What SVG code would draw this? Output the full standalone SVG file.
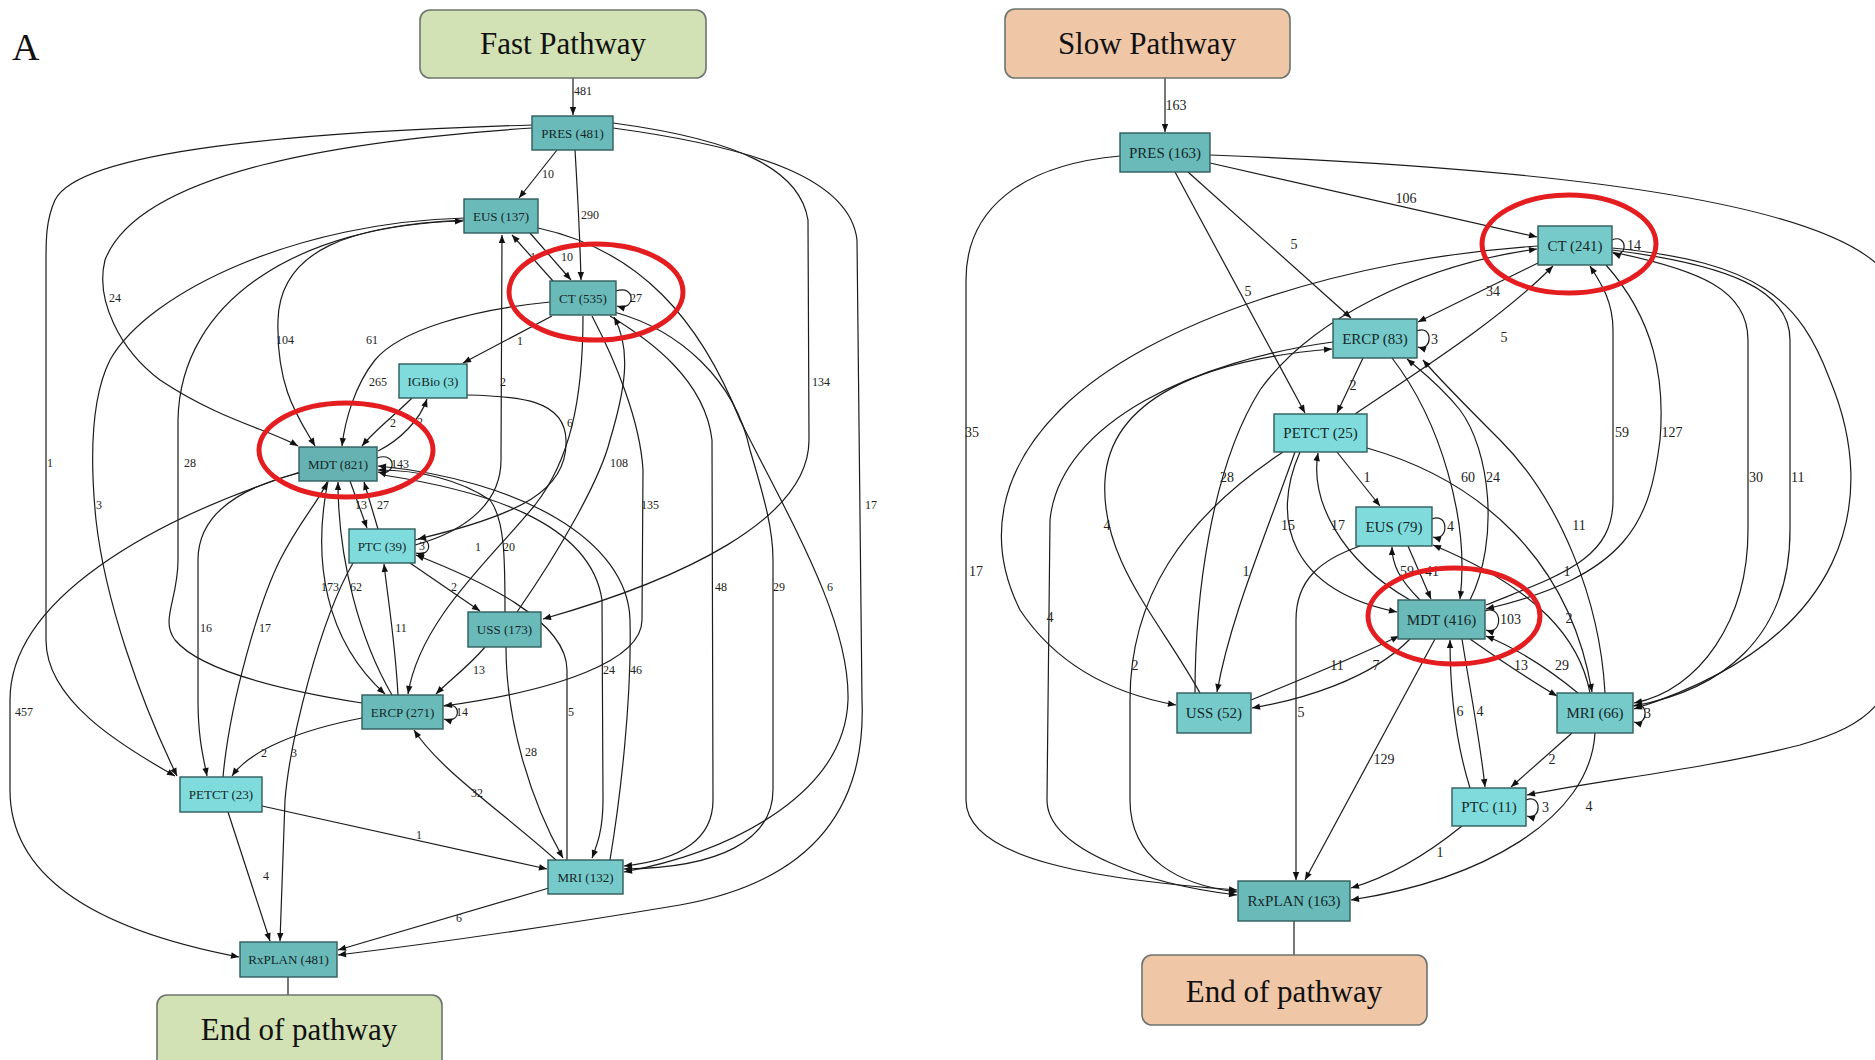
<svg xmlns="http://www.w3.org/2000/svg" width="1875" height="1060" viewBox="0 0 1875 1060">
  <style>
    .e { fill: none; stroke: #1b1b1b; stroke-width: 1.2; marker-end: url(#ah); }
    .en { fill: none; stroke: #1b1b1b; stroke-width: 1.2; }
    .node rect { stroke: #2f5c5c; stroke-width: 1.4; }
    .n1 { fill: #6bbaba; }
    .n0 { fill: #66b2b2; }
    .n2 { fill: #77caca; }
    .n3 { fill: #80dcdc; }
    .nt { font-family: "Liberation Serif", "Times New Roman", serif; fill: #142828; text-anchor: middle; }
    .s { font-size: 13px; }
    .b { font-size: 15px; }
    .big { font-family: "Liberation Serif", "Times New Roman", serif; font-size: 31px; fill: #111; text-anchor: middle; }
    .term rect { stroke: #6d7470; stroke-width: 1.6; }
    .g { fill: #d2e2b4; }
    .p { fill: #efc6a6; }
    .lab text { font-family: "Liberation Serif", "Times New Roman", serif; fill: #222; text-anchor: middle; }
    .ll text { font-size: 12px; }
    .lr text { font-size: 14px; }
    .st { text-anchor: start !important; }
    .ring { fill: none; stroke: #e41d20; stroke-width: 5; }
  </style>
  <defs>
    <marker id="ah" viewBox="0 0 10 10" refX="10" refY="5" markerWidth="9" markerHeight="8" markerUnits="userSpaceOnUse" orient="auto">
      <path d="M0,1 L10,5 L0,9 z" fill="#111"/>
    </marker>
  </defs>
  <rect width="1875" height="1060" fill="#ffffff"/>

  <text x="12" y="60" font-family="Liberation Serif, Times New Roman, serif" font-size="38" fill="#111">A</text>

  <!-- connectors: fast pathway -->
  <g id="edges-fast">
    <path class="e" d="M573,78 L573,115"/>
    <path class="e" d="M557,150 L519,198"/>
    <path class="e" d="M575,150 C578,200 580,240 581,280"/>
    <path class="e" d="M530,233 L571,280"/>
    <path class="e" d="M553,281 L512,235"/>
    <path class="e" d="M616,291 C636,284 636,312 617,306"/>
    <path class="e" d="M552,316 L463,363"/>
    <path class="e" d="M550,302 C470,310 400,330 375,360 C355,385 345,420 342,446"/>
    <path class="e" d="M412,398 C395,415 375,430 362,446"/>
    <path class="e" d="M378,451 C400,440 420,420 427,399"/>
    <path class="e" d="M467,395 C520,396 565,400 566,440 C568,490 520,515 418,539"/>
    <path class="e" d="M415,545 C470,530 501,500 501,460 L502,235"/>
    <path class="e" d="M377,458 C397,451 397,477 378,472"/>
    <path class="e" d="M532,128 C350,140 140,170 105,260 C95,300 120,350 160,380 C220,420 270,430 298,446"/>
    <path class="e" d="M532,125 C300,132 80,150 55,200 C46,220 46,240 46,260 L46,640 C46,700 120,745 175,776"/>
    <path class="e" d="M613,123 C740,140 800,170 808,220 L809,440 C809,520 680,580 543,619"/>
    <path class="e" d="M613,128 C760,148 850,180 857,240 L862,700 C866,800 820,880 680,905 C560,925 420,945 338,955"/>
    <path class="e" d="M538,228 C640,250 700,320 740,420 C790,520 850,620 848,700 C845,790 740,850 624,872"/>
    <path class="e" d="M610,316 C650,340 705,380 712,440 L713,800 C713,840 680,860 624,866"/>
    <path class="e" d="M614,312 C680,330 735,380 750,450 C765,500 773,530 773,560 L773,790 C773,840 720,868 624,869"/>
    <path class="e" d="M517,612 C560,550 600,480 610,440 C625,390 632,350 614,317"/>
    <path class="e" d="M592,316 C615,360 640,420 643,470 L642,620 C642,660 560,690 444,706"/>
    <path class="e" d="M583,316 C583,400 570,460 535,505 C490,560 420,620 408,694"/>
    <path class="e" d="M505,612 C505,560 505,520 490,500 C460,480 420,470 378,470"/>
    <path class="e" d="M410,563 L480,611"/>
    <path class="e" d="M485,647 C470,665 450,680 436,694"/>
    <path class="e" d="M506,647 C506,720 530,800 563,858"/>
    <path class="e" d="M567,860 L567,670 C567,620 480,580 416,555"/>
    <path class="e" d="M383,475 C480,490 590,520 602,600 L603,800 C603,830 597,845 592,858"/>
    <path class="e" d="M610,860 C620,800 632,700 630,620 C628,540 520,480 378,466"/>
    <path class="e" d="M350,481 L367,528"/>
    <path class="e" d="M378,529 L364,482"/>
    <path class="e" d="M328,481 C312,560 325,640 385,694"/>
    <path class="e" d="M392,695 C360,640 338,560 338,482"/>
    <path class="e" d="M398,695 C395,640 388,600 384,564"/>
    <path class="e" d="M299,473 C230,490 198,520 198,560 L198,700 C198,740 204,760 207,776"/>
    <path class="e" d="M223,777 C230,700 260,600 280,560 C300,520 320,500 327,482"/>
    <path class="e" d="M362,718 C300,730 250,750 232,776"/>
    <path class="e" d="M353,563 C320,620 290,740 285,800 L280,941"/>
    <path class="e" d="M228,812 L270,941"/>
    <path class="e" d="M262,806 L547,869"/>
    <path class="e" d="M549,888 L338,950"/>
    <path class="e" d="M556,860 C500,810 440,770 414,730"/>
    <path class="e" d="M300,472 C150,520 10,600 10,700 L10,790 C10,900 150,940 239,957"/>
    <path class="e" d="M465,220 C350,225 280,250 278,320 C276,390 300,420 315,446"/>
    <path class="e" d="M465,218 C300,222 150,290 110,360 C90,400 90,460 96,520 C105,600 140,700 177,776"/>
    <path class="e" d="M362,703 C280,690 200,670 175,640 C160,620 178,600 178,560 L178,420 C180,300 300,225 463,221"/>
    <path class="e" d="M443,706 C462,699 462,725 444,719"/>
    <path class="e" d="M415,540 C433,534 433,558 416,553"/>
    <path class="en" d="M288,977 L288,995"/>
  </g>

  <!-- connectors: slow pathway -->
  <g id="edges-slow">
    <path class="e" d="M1165,78 L1165,132"/>
    <path class="e" d="M1210,163 L1537,237"/>
    <path class="e" d="M1188,172 L1351,318"/>
    <path class="e" d="M1175,172 L1305,413"/>
    <path class="e" d="M1120,156 C1020,165 966,210 966,280 L966,800 C966,860 1100,880 1237,890"/>
    <path class="e" d="M1538,246 C1350,258 1150,320 1060,410 C1000,470 985,540 1020,610 C1060,670 1120,695 1176,705"/>
    <path class="e" d="M1195,693 C1195,600 1210,470 1260,390 C1310,320 1420,265 1537,249"/>
    <path class="e" d="M1363,358 L1337,413"/>
    <path class="e" d="M1540,262 L1418,322"/>
    <path class="e" d="M1355,414 C1420,370 1500,320 1553,266"/>
    <path class="e" d="M1417,331 C1433,324 1433,352 1418,347"/>
    <path class="e" d="M1612,240 C1628,233 1628,259 1613,253"/>
    <path class="e" d="M1333,342 C1200,360 1060,420 1050,520 L1047,800 C1047,850 1150,885 1237,895"/>
    <path class="e" d="M1200,693 C1160,620 1100,560 1105,480 C1110,400 1200,360 1332,349"/>
    <path class="e" d="M1337,452 L1380,506"/>
    <path class="e" d="M1300,452 C1270,520 1290,590 1397,612"/>
    <path class="e" d="M1410,600 C1340,560 1310,500 1318,453"/>
    <path class="e" d="M1367,448 C1480,480 1570,560 1592,692"/>
    <path class="e" d="M1295,452 C1260,550 1230,620 1217,692"/>
    <path class="e" d="M1283,452 C1180,520 1130,600 1130,700 L1130,800 C1130,860 1180,885 1237,892"/>
    <path class="e" d="M1392,358 C1440,420 1470,520 1460,599"/>
    <path class="e" d="M1470,600 C1500,540 1490,450 1460,410 C1440,385 1420,370 1407,359"/>
    <path class="e" d="M1605,693 C1600,600 1560,500 1500,440 C1460,400 1440,380 1423,360"/>
    <path class="e" d="M1432,519 C1449,512 1449,542 1433,537"/>
    <path class="e" d="M1420,600 C1400,580 1392,565 1392,547"/>
    <path class="e" d="M1408,546 L1431,599"/>
    <path class="e" d="M1485,611 C1503,604 1503,636 1486,630"/>
    <path class="e" d="M1590,693 C1580,640 1540,590 1433,545"/>
    <path class="e" d="M1578,693 C1550,670 1520,650 1486,636"/>
    <path class="e" d="M1470,639 C1500,660 1530,680 1557,696"/>
    <path class="e" d="M1251,700 C1300,680 1360,655 1399,636"/>
    <path class="e" d="M1410,639 C1370,680 1300,700 1252,708"/>
    <path class="e" d="M1435,639 L1305,880"/>
    <path class="e" d="M1360,546 C1320,560 1296,580 1296,620 L1296,880"/>
    <path class="e" d="M1470,788 C1455,740 1450,690 1450,640"/>
    <path class="e" d="M1462,639 C1470,690 1480,740 1485,787"/>
    <path class="e" d="M1572,733 L1511,787"/>
    <path class="e" d="M1633,706 C1649,699 1649,727 1634,722"/>
    <path class="e" d="M1595,733 C1590,820 1480,880 1351,900"/>
    <path class="e" d="M1462,826 C1420,860 1385,878 1351,888"/>
    <path class="e" d="M1526,800 C1542,793 1542,821 1527,816"/>
    <path class="e" d="M1210,155 C1600,170 1870,210 1895,290 L1900,620 C1900,700 1870,725 1800,745 C1700,770 1600,780 1527,795"/>
    <path class="e" d="M1486,605 C1560,575 1613,560 1613,500 L1613,330 C1613,300 1600,282 1590,266"/>
    <path class="e" d="M1606,265 C1655,320 1665,380 1660,440 C1650,520 1630,575 1486,609"/>
    <path class="e" d="M1612,252 C1700,270 1748,290 1748,340 L1748,530 C1748,620 1700,690 1634,703"/>
    <path class="e" d="M1612,250 C1730,265 1790,290 1790,340 L1790,530 C1790,640 1720,690 1634,706"/>
    <path class="e" d="M1612,248 C1760,262 1800,300 1830,380 C1880,500 1850,640 1634,709"/>
    <path class="en" d="M1294,921 L1294,955"/>
  </g>

  <!-- edge counts -->
  <g class="lab ll">
    <text x="583" y="95">481</text><text x="548" y="178">10</text><text x="590" y="219">290</text>
    <text x="567" y="261">10</text><text x="533" y="261">1</text><text class="st" x="630" y="302">27</text>
    <text x="115" y="302">24</text><text x="285" y="344">104</text><text x="372" y="344">61</text>
    <text x="520" y="345">1</text><text x="378" y="386">265</text><text x="503" y="386">2</text>
    <text x="821" y="386">134</text><text x="393" y="427">2</text><text x="420" y="426">2</text>
    <text x="570" y="427">6</text><text class="st" x="47" y="467">1</text><text x="190" y="467">28</text>
    <text class="st" x="391" y="468">143</text><text x="619" y="467">108</text><text x="99" y="509">3</text>
    <text x="361" y="509">13</text><text x="383" y="509">27</text><text x="650" y="509">135</text>
    <text x="871" y="509">17</text><text class="st" x="419" y="550">3</text><text x="478" y="551">1</text>
    <text x="509" y="551">20</text><text x="330" y="591">173</text><text x="356" y="591">62</text>
    <text x="454" y="591">2</text><text x="721" y="591">48</text><text x="779" y="591">29</text>
    <text x="830" y="591">6</text><text x="206" y="632">16</text><text x="265" y="632">17</text>
    <text x="401" y="632">11</text><text x="479" y="674">13</text><text x="609" y="674">24</text>
    <text x="636" y="674">46</text><text class="st" x="456" y="716">14</text><text x="24" y="716">457</text>
    <text x="571" y="716">5</text><text x="264" y="757">2</text><text x="294" y="757">3</text>
    <text x="531" y="756">28</text><text x="477" y="797">32</text><text x="419" y="839">1</text>
    <text x="266" y="880">4</text><text x="459" y="922">6</text>
  </g>
  <g class="lab lr">
    <text x="1176" y="110">163</text><text x="1406" y="203">106</text><text x="1294" y="249">5</text>
    <text x="1248" y="296">5</text><text x="1493" y="296">34</text><text x="1504" y="342">5</text>
    <text class="st" x="1431" y="344">3</text><text class="st" x="1627" y="250">14</text><text x="1353" y="390">2</text>
    <text x="972" y="437">35</text><text class="st" x="1615" y="437">59</text><text x="1672" y="437">127</text>
    <text x="1227" y="482">28</text><text class="st" x="1749" y="482">30</text><text class="st" x="1791" y="482">11</text>
    <text x="1367" y="482">1</text><text x="1468" y="482">60</text><text x="1493" y="482">24</text>
    <text x="1107" y="530">4</text><text x="1288" y="530">15</text><text x="1338" y="530">17</text>
    <text class="st" x="1447" y="531">4</text><text x="1579" y="530">11</text><text x="976" y="576">17</text>
    <text x="1246" y="576">1</text><text x="1407" y="576">59</text><text x="1432" y="576">41</text>
    <text x="1567" y="576">1</text><text class="st" x="1500" y="624">103</text><text x="1569" y="623">2</text>
    <text x="1337" y="670">11</text><text x="1376" y="670">7</text><text x="1521" y="670">13</text>
    <text x="1562" y="670">29</text><text x="1135" y="670">2</text><text x="1050" y="622">4</text>
    <text x="1301" y="717">5</text><text x="1460" y="716">6</text><text x="1480" y="716">4</text>
    <text class="st" x="1644" y="718">3</text><text x="1384" y="764">129</text><text x="1552" y="764">2</text>
    <text class="st" x="1542" y="812">3</text><text x="1589" y="811">4</text><text x="1440" y="857">1</text>
  </g>

  <!-- fast pathway nodes -->
  <g id="fast-start" class="term"><rect class="g" x="420" y="10" width="286" height="68" rx="10"/><text class="big" x="563" y="54">Fast Pathway</text></g>
  <g id="f-pres" class="node"><rect class="n1" x="532" y="116" width="81" height="34"/><text class="nt s" x="572.5" y="137.5">PRES (481)</text></g>
  <g id="f-eus" class="node"><rect class="n1" x="464" y="199" width="74" height="34"/><text class="nt s" x="501" y="220.5">EUS (137)</text></g>
  <g id="f-ct" class="node"><rect class="n1" x="550" y="281" width="66" height="34"/><text class="nt s" x="583" y="302.5">CT (535)</text></g>
  <g id="f-igbio" class="node"><rect class="n3" x="399" y="364" width="68" height="34"/><text class="nt s" x="433" y="385.5">IGBio (3)</text></g>
  <g id="f-mdt" class="node"><rect class="n0" x="299" y="447" width="78" height="34"/><text class="nt s" x="338" y="468.5">MDT (821)</text></g>
  <g id="f-ptc" class="node"><rect class="n3" x="349" y="529" width="66" height="34"/><text class="nt s" x="382" y="550.5">PTC (39)</text></g>
  <g id="f-uss" class="node"><rect class="n1" x="468" y="612" width="73" height="35"/><text class="nt s" x="504.5" y="634">USS (173)</text></g>
  <g id="f-ercp" class="node"><rect class="n1" x="362" y="695" width="81" height="34"/><text class="nt s" x="402.5" y="716.5">ERCP (271)</text></g>
  <g id="f-petct" class="node"><rect class="n3" x="180" y="777" width="82" height="35"/><text class="nt s" x="221" y="799">PETCT (23)</text></g>
  <g id="f-mri" class="node"><rect class="n2" x="548" y="860" width="75" height="34"/><text class="nt s" x="585.5" y="881.5">MRI (132)</text></g>
  <g id="f-rxplan" class="node"><rect class="n1" x="240" y="942" width="97" height="35"/><text class="nt s" x="288.5" y="964">RxPLAN (481)</text></g>
  <g id="fast-end" class="term"><rect class="g" x="157" y="995" width="285" height="85" rx="10"/><text class="big" x="299" y="1040">End of pathway</text></g>

  <!-- slow pathway nodes -->
  <g id="slow-start" class="term"><rect class="p" x="1005" y="9" width="285" height="69" rx="10"/><text class="big" x="1147" y="54">Slow Pathway</text></g>
  <g id="s-pres" class="node"><rect class="n1" x="1120" y="133" width="90" height="39"/><text class="nt b" x="1165" y="157.5">PRES (163)</text></g>
  <g id="s-ct" class="node"><rect class="n2" x="1538" y="226" width="74" height="39"/><text class="nt b" x="1575" y="250.5">CT (241)</text></g>
  <g id="s-ercp" class="node"><rect class="n2" x="1333" y="319" width="84" height="39"/><text class="nt b" x="1375" y="343.5">ERCP (83)</text></g>
  <g id="s-petct" class="node"><rect class="n3" x="1274" y="414" width="93" height="38"/><text class="nt b" x="1320.5" y="438">PETCT (25)</text></g>
  <g id="s-eus" class="node"><rect class="n3" x="1356" y="507" width="76" height="39"/><text class="nt b" x="1394" y="531.5">EUS (79)</text></g>
  <g id="s-mdt" class="node"><rect class="n1" x="1398" y="600" width="87" height="39"/><text class="nt b" x="1441.5" y="624.5">MDT (416)</text></g>
  <g id="s-uss" class="node"><rect class="n2" x="1177" y="693" width="74" height="40"/><text class="nt b" x="1214" y="718">USS (52)</text></g>
  <g id="s-mri" class="node"><rect class="n2" x="1557" y="693" width="76" height="40"/><text class="nt b" x="1595" y="718">MRI (66)</text></g>
  <g id="s-ptc" class="node"><rect class="n3" x="1452" y="788" width="74" height="38"/><text class="nt b" x="1489" y="812">PTC (11)</text></g>
  <g id="s-rxplan" class="node"><rect class="n1" x="1238" y="881" width="112" height="40"/><text class="nt b" x="1294" y="906">RxPLAN (163)</text></g>
  <g id="slow-end" class="term"><rect class="p" x="1142" y="955" width="285" height="70" rx="10"/><text class="big" x="1284" y="1002">End of pathway</text></g>

  <!-- highlight rings -->
  <g id="highlights">
    <ellipse class="ring" cx="596" cy="292" rx="87" ry="48"/>
    <ellipse class="ring" cx="346" cy="450" rx="87" ry="47"/>
    <ellipse class="ring" cx="1569" cy="244" rx="87" ry="49"/>
    <ellipse class="ring" cx="1454" cy="616" rx="86" ry="48"/>
  </g>
</svg>
